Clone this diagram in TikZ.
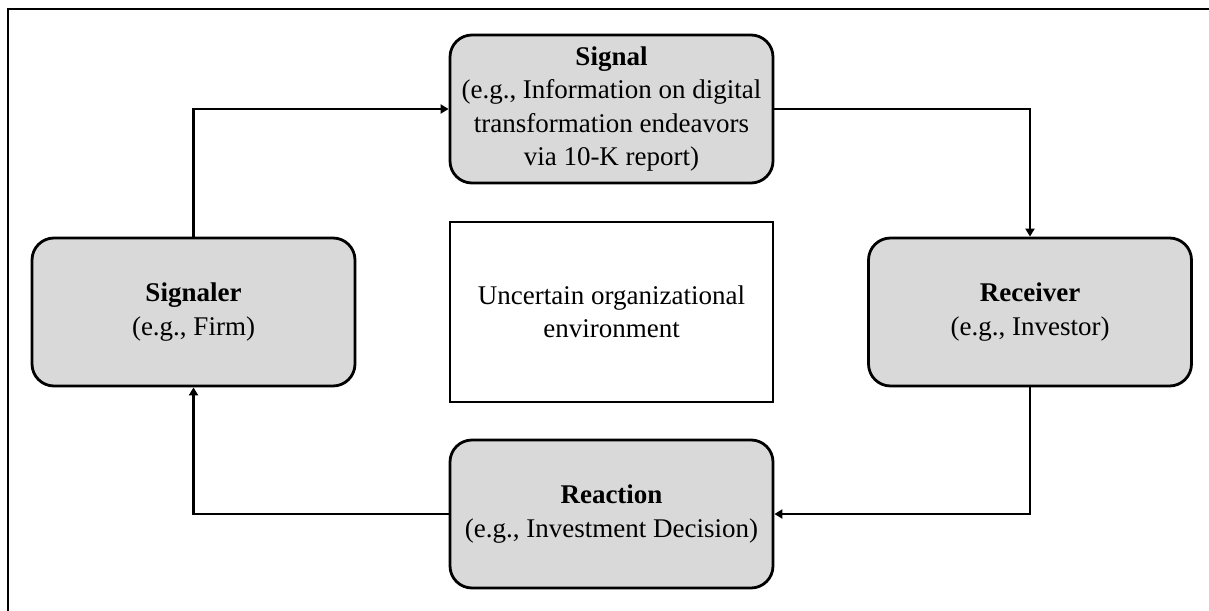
\documentclass[tikz,border=0pt]{standalone}
\usepackage{fontspec}
\setmainfont{Liberation Serif}
\usetikzlibrary{arrows.meta}
\definecolor{boxgray}{HTML}{D9D9D9}
\begin{document}
\begin{tikzpicture}[x=1pt,y=-1pt,
  txt/.style={font=\fontsize{27}{33.5}\selectfont},
  card/.style={txt, draw, line width=2.8pt, fill=boxgray, rounded corners=22pt,
    minimum width=323pt, minimum height=148pt, inner sep=0pt, align=center},
  envbox/.style={txt, draw, line width=2.8pt, fill=white,
    minimum width=323pt, minimum height=180pt, inner sep=0pt, align=center},
  flow/.style={line width=2.5pt, -{Triangle[length=8pt,width=9pt]}},
]
\useasboundingbox (0,0) rectangle (1209,610);
% outer frame
\draw[line width=2.4pt] (8,9) rectangle (1216,620);

% boxes
\node[card] (signal) at (611.5,109)
  {\textbf{Signal}\\(e.g., Information on digital\\transformation endeavors\\via 10-K report)};
\node[envbox] (env) at (611.5,312) {Uncertain organizational\\environment};
\node[card] (signaler) at (193.5,312) {\textbf{Signaler}\\(e.g., Firm)};
\node[card] (receiver) at (1030,312) {\textbf{Receiver}\\(e.g., Investor)};
\node[card] (reaction) at (611.5,514) {\textbf{Reaction}\\(e.g., Investment Decision)};

% signalling cycle
\draw[flow] (signaler.north) |- (signal.west);
\draw[flow] (signal.east) -| (receiver.north);
\draw[flow] (receiver.south) |- (reaction.east);
\draw[flow] (reaction.west) -| (signaler.south);
\end{tikzpicture}
\end{document}
